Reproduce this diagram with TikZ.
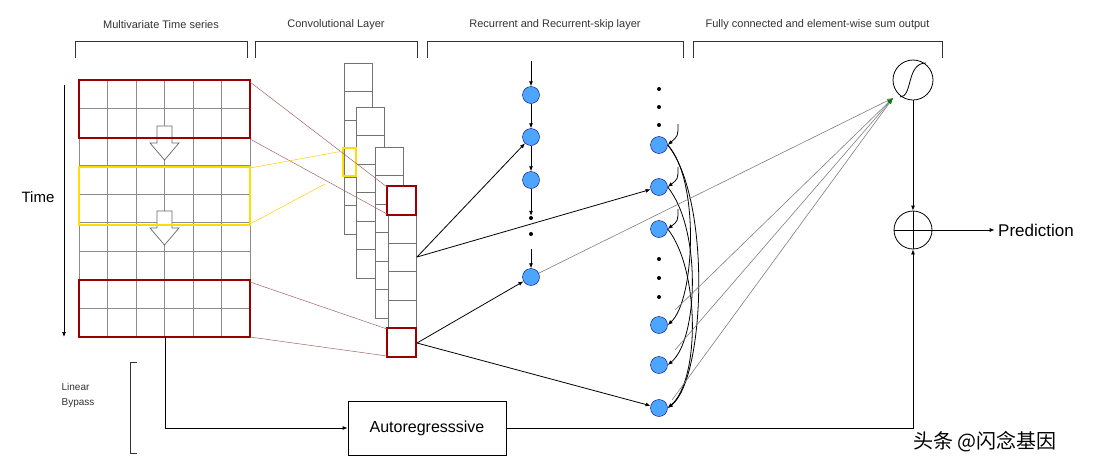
\documentclass[tikz,border=0pt]{standalone}
\usepackage{fontspec}
\setmainfont{Liberation Sans}
\newfontfamily\cjk{Noto Sans CJK SC}
\usetikzlibrary{arrows.meta}
\begin{document}
\begin{tikzpicture}[x=1pt,y=-1pt,
  lab/.style={font=\fontsize{11}{13}\selectfont,text=black!80},
  brk/.style={draw=black!80,line width=1pt},
  cell/.style={draw=black!45,line width=0.5pt},
  ccell/.style={draw=black!55,fill=white,line width=0.5pt},
  redb/.style={draw=red!60!black,line width=1.5pt},
  yelb/.style={draw=yellow!80!orange,line width=1.3pt},
  thin/.style={line width=0.5pt},
  rn/.style={circle,fill=blue!50!cyan!70!white,draw=blue!50!black,line width=0.4pt,minimum size=17pt,inner sep=0pt},
  arr/.style={-{Latex[length=5pt,width=4pt]},line width=0.8pt},
  gl/.style={draw=black!50,line width=0.6pt},
  harr/.style={draw=black!60,fill=white,line width=0.7pt},
  dot/.style={circle,fill=black,minimum size=4pt,inner sep=0pt}]
\useasboundingbox (0,0) rectangle (1100,472);
\fill[white] (0,0) rectangle (1100,472);
% brackets
\foreach \a/\b/\t in {75/247/Multivariate Time series,255/417/Convolutional Layer,427/683/Recurrent and Recurrent-skip layer,693/942/Fully connected and element-wise sum output}{
  \draw[brk] (\a,58) -- (\a,41) -- (\b,41) -- (\b,58);
  \node[lab] at ({(\a+\b)/2},25) {\t};
}
% grid
\foreach \x in {79,107.5,136,164.5,193,221.5,250} \draw[cell] (\x,80) -- (\x,337);
\foreach \y in {80,108.5,137,165.5,194,222.5,251,279.5,308,337} \draw[cell] (79,\y) -- (250,\y);
\foreach \t in {126,211}
  \draw[harr] (157,\t) -- (172,\t) -- (172,\t+17) -- (179,\t+17) -- (164.5,\t+34) -- (150,\t+17) -- (157,\t+17) -- cycle;
\draw[redb] (79,80) rectangle (250,138);
\draw[yelb] (79,167) rectangle (250,225);
\draw[redb] (79,280) rectangle (250,337);
% time axis
\coordinate (t0) at (64,85); \coordinate (t1) at (64,337);
\draw[arr,line width=0.7pt] (t0) -- (t1);
\node[font=\fontsize{15}{17}\selectfont] (time) at (38,197) {Time};
% conv columns
\foreach \x/\y in {344/63,356/107,375/147,388/186}{
  \foreach \k in {0,...,5} \draw[ccell] (\x,\y+28.5*\k) rectangle (\x+28.5,\y+28.5*\k+28.5);
}
\draw[yelb] (343,148) rectangle (356,176);
\draw[redb,fill=white] (387,186) rectangle (416,215);
\draw[redb,fill=white] (387,328) rectangle (416,357);
% lines grid->conv
\draw[draw=red!40!black!60,thin] (250,82) -- (387,187);
\draw[draw=red!40!black!60,thin] (250,139) -- (387,214);
\draw[draw=yellow!70!orange,thin] (250,168) -- (343,151);
\draw[draw=yellow!70!orange,thin] (250,224) -- (325,184);
\draw[draw=red!40!black!60,thin] (250,282) -- (387,329);
\draw[draw=red!40!black!60,thin] (250,337) -- (387,356);
% recurrent column
\node[rn] (r1) at (531,95) {};
\node[rn] (r2) at (531,137) {};
\node[rn] (r3) at (531,180) {};
\node[rn] (r4) at (531,277) {};
\node[dot] (d1) at (531,218) {};
\node[dot] (d2) at (531,234) {};
\coordinate (rin) at (531,61);
\coordinate (d3) at (531,249);
\draw[arr] (rin) -- (r1);
\draw[arr] (r1) -- (r2);
\draw[arr] (r2) -- (r3);
\draw[arr] (r3) -- (d1);
\draw[arr] (d3) -- (r4);
% skip column
\foreach \y/\n in {89/a,107/b,125/c,259/d,278/e,297/f} \node[dot] (s\n) at (659,\y) {};
\node[rn] (s1) at (659,145) {};
\node[rn] (s2) at (659,187) {};
\node[rn] (s3) at (659,229) {};
\node[rn] (s4) at (659,325) {};
\node[rn] (s5) at (659,365) {};
\node[rn] (s6) at (659,408) {};
\foreach \n/\y in {1/124,2/167,3/209}{
  \coordinate (q\n) at (678,\y);
  \draw[arr] (q\n) .. controls (678,{\y+12}) .. (s\n.east);
}
\draw[arr] (s1.east) .. controls (700,180) and (695,300) .. (s4.east);
\draw[arr] (s2.east) .. controls (702,230) and (698,340) .. (s5.east);
\draw[arr] (s3.east) .. controls (700,270) and (700,380) .. (s6.east);
\draw[arr] (s1.east) .. controls (712,200) and (705,380) .. (s6.east);
% conv -> rnn
\coordinate (c1) at (417,257);
\coordinate (c2) at (417,343);
\draw[arr] (c1) -- (r2);
\draw[arr] (c1) -- (s2);
\draw[arr] (c2) -- (r4);
\draw[arr] (c2) -- (s6);
% output
\node[circle,draw,line width=0.8pt,minimum size=40pt,inner sep=0pt] (sig) at (913,80) {};
\draw[line width=0.8pt] (900,97) .. controls (913,97) and (906,63) .. (926,63);
\node[circle,draw,line width=0.8pt,minimum size=38pt,inner sep=0pt] (sum) at (913,230) {};
\draw[line width=0.7pt] (sum.north) -- (sum.south) (sum.west) -- (sum.east);
\coordinate (fin) at (893,98);
\coordinate (f1) at (675,310);
\coordinate (f2) at (675,350);
\coordinate (f3) at (672,400);
\draw[gl,-{Latex[length=6pt,width=4pt]}] (r4) -- (fin);
\foreach \f in {f1,f2,f3} \draw[gl,-{Latex[length=6pt,width=4pt,color=green!50!black]}] (\f) -- (fin);
\draw[arr] (sig) -- (sum);
\node[font=\fontsize{17}{19}\selectfont] (pred) at (1036,230) {Prediction};
\draw[arr] (sum) -- (pred.west);
% autoregressive
\node[draw,line width=0.8pt,minimum width=158pt,minimum height=54pt,font=\fontsize{16}{18}\selectfont] (ar) at (427,428) {Autoregresssive};
\coordinate (g0) at (165,337);
\coordinate (g1) at (165,428);
\draw[arr] (g0) -- (g1) -- (ar.west);
\coordinate (e0) at (913,428);
\draw[arr] (ar.east) -- (e0) -- (sum.south);
% linear bypass
\draw[brk] (137,362) -- (130,362) -- (130,453) -- (137,453);
\node[lab,align=left,font=\fontsize{10}{15}\selectfont] (lb) at (78,395) {Linear\\Bypass};
% watermark
\node[font=\cjk\fontsize{20}{22}\selectfont] (wm) at (985,442) {头条 @闪念基因};
\end{tikzpicture}
\end{document}
